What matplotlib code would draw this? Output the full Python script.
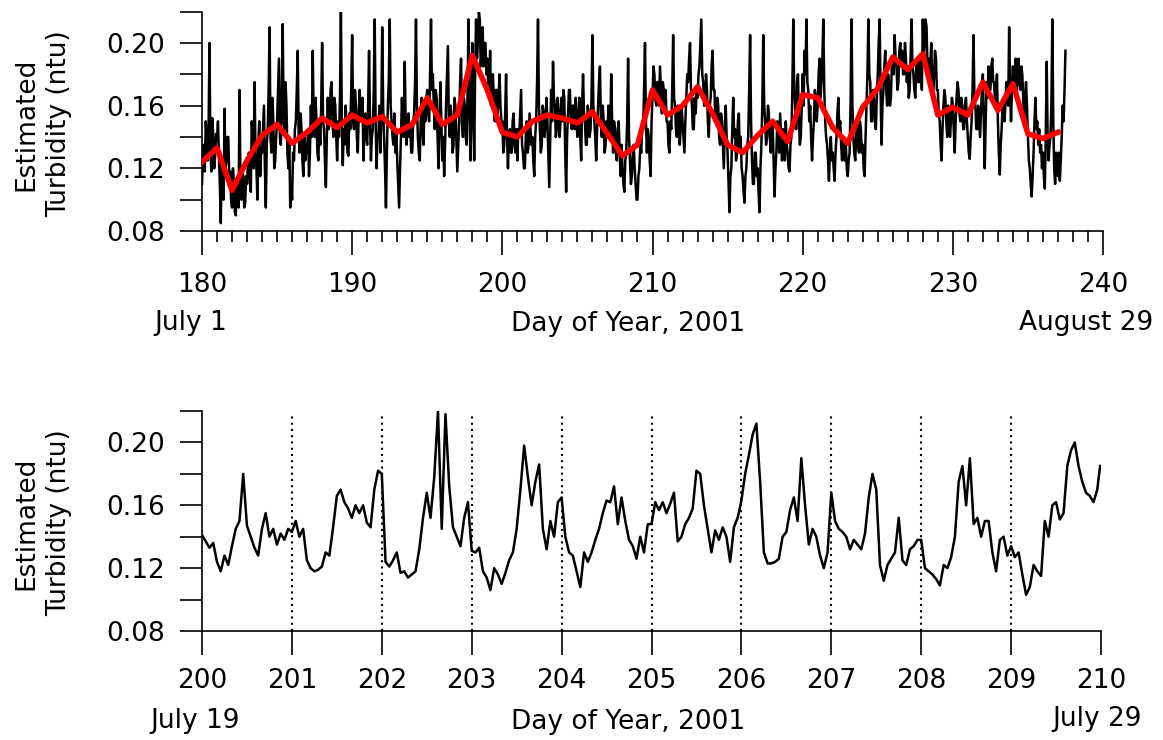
import matplotlib
matplotlib.use("Agg")
import matplotlib.pyplot as plt
import numpy as np
from matplotlib.ticker import FixedLocator, FuncFormatter

plt.rcParams['font.family'] = ['DejaVu Sans']

# ---------------- data ----------------
# Top panel: daily means (red) for day-of-year 180..237
mean_days = list(range(180, 238))
daily_mean = [0.124, 0.133, 0.106, 0.125, 0.141, 0.148, 0.136, 0.143, 0.152, 0.146,
              0.154, 0.149, 0.153, 0.143, 0.148, 0.165, 0.148, 0.154, 0.192, 0.170,
              0.143, 0.140, 0.150, 0.154, 0.152, 0.149, 0.156, 0.142, 0.128, 0.135,
              0.170, 0.154, 0.160, 0.172, 0.155, 0.135, 0.130, 0.141, 0.150, 0.137,
              0.167, 0.165, 0.146, 0.136, 0.159, 0.171, 0.191, 0.183, 0.193, 0.154,
              0.159, 0.154, 0.175, 0.157, 0.174, 0.142, 0.139, 0.143]

# Top panel: raw estimated turbidity, 16 readings per day (1.5-hourly), day 180 .. 237.5
top_raw = [
    [0.110, 0.130, 0.135, 0.118, 0.150, 0.140, 0.125, 0.145, 0.200, 0.130, 0.118, 0.152, 0.140, 0.120, 0.128, 0.142],  # 180
    [0.138, 0.150, 0.128, 0.110, 0.085, 0.125, 0.112, 0.100, 0.158, 0.120, 0.125, 0.140, 0.140, 0.115, 0.118, 0.100],  # 181
    [0.095, 0.120, 0.110, 0.092, 0.090, 0.112, 0.105, 0.095, 0.170, 0.110, 0.100, 0.118, 0.115, 0.095, 0.098, 0.115],  # 182
    [0.110, 0.125, 0.130, 0.112, 0.105, 0.150, 0.140, 0.120, 0.175, 0.130, 0.120, 0.100, 0.135, 0.150, 0.115, 0.130],  # 183
    [0.130, 0.145, 0.160, 0.120, 0.095, 0.135, 0.145, 0.170, 0.210, 0.140, 0.130, 0.165, 0.150, 0.120, 0.125, 0.140],  # 184
    [0.150, 0.170, 0.190, 0.140, 0.135, 0.165, 0.212, 0.150, 0.145, 0.175, 0.160, 0.130, 0.120, 0.140, 0.095, 0.110],  # 185
    [0.100, 0.130, 0.125, 0.145, 0.150, 0.170, 0.195, 0.140, 0.130, 0.155, 0.145, 0.125, 0.115, 0.140, 0.125, 0.135],  # 186
    [0.130, 0.145, 0.115, 0.130, 0.160, 0.140, 0.195, 0.150, 0.140, 0.165, 0.150, 0.130, 0.125, 0.150, 0.135, 0.160],  # 187
    [0.200, 0.150, 0.145, 0.125, 0.108, 0.140, 0.165, 0.145, 0.150, 0.170, 0.175, 0.150, 0.140, 0.165, 0.160, 0.140],  # 188
    [0.125, 0.150, 0.140, 0.165, 0.220, 0.150, 0.122, 0.145, 0.135, 0.160, 0.150, 0.130, 0.128, 0.155, 0.145, 0.170],  # 189
    [0.205, 0.150, 0.145, 0.170, 0.160, 0.140, 0.130, 0.155, 0.170, 0.150, 0.150, 0.165, 0.125, 0.145, 0.155, 0.140],  # 190
    [0.135, 0.160, 0.195, 0.150, 0.125, 0.140, 0.145, 0.170, 0.215, 0.150, 0.120, 0.140, 0.140, 0.160, 0.130, 0.150],  # 191
    [0.210, 0.160, 0.140, 0.120, 0.095, 0.130, 0.160, 0.175, 0.215, 0.160, 0.150, 0.140, 0.135, 0.155, 0.130, 0.145],  # 192
    [0.125, 0.110, 0.095, 0.120, 0.140, 0.165, 0.150, 0.140, 0.188, 0.150, 0.135, 0.150, 0.155, 0.140, 0.145, 0.130],  # 193
    [0.130, 0.150, 0.155, 0.175, 0.215, 0.160, 0.140, 0.130, 0.125, 0.150, 0.165, 0.145, 0.135, 0.160, 0.150, 0.165],  # 194
    [0.170, 0.155, 0.150, 0.180, 0.215, 0.170, 0.180, 0.160, 0.145, 0.170, 0.165, 0.140, 0.120, 0.150, 0.175, 0.150],  # 195
    [0.125, 0.140, 0.115, 0.135, 0.160, 0.180, 0.198, 0.150, 0.140, 0.160, 0.150, 0.130, 0.135, 0.165, 0.160, 0.140],  # 196
    [0.118, 0.135, 0.150, 0.175, 0.190, 0.150, 0.140, 0.165, 0.160, 0.140, 0.135, 0.170, 0.215, 0.160, 0.125, 0.150],  # 197
    [0.200, 0.170, 0.125, 0.180, 0.215, 0.190, 0.200, 0.220, 0.215, 0.185, 0.195, 0.210, 0.185, 0.200, 0.200, 0.180],  # 198
    [0.190, 0.170, 0.175, 0.195, 0.160, 0.175, 0.180, 0.160, 0.150, 0.170, 0.170, 0.155, 0.165, 0.180, 0.160, 0.150],  # 199
    [0.150, 0.130, 0.135, 0.155, 0.180, 0.140, 0.120, 0.140, 0.145, 0.130, 0.130, 0.150, 0.155, 0.135, 0.130, 0.145],  # 200
    [0.125, 0.145, 0.140, 0.155, 0.170, 0.135, 0.130, 0.120, 0.120, 0.140, 0.150, 0.130, 0.135, 0.155, 0.145, 0.135],  # 201
    [0.140, 0.125, 0.115, 0.140, 0.150, 0.175, 0.215, 0.160, 0.145, 0.130, 0.135, 0.160, 0.155, 0.140, 0.150, 0.165],  # 202
    [0.150, 0.130, 0.108, 0.140, 0.170, 0.150, 0.188, 0.165, 0.160, 0.140, 0.145, 0.165, 0.155, 0.140, 0.150, 0.165],  # 203
    [0.150, 0.170, 0.165, 0.130, 0.105, 0.140, 0.155, 0.170, 0.170, 0.150, 0.145, 0.160, 0.160, 0.145, 0.165, 0.150],  # 204
    [0.140, 0.155, 0.165, 0.140, 0.125, 0.160, 0.180, 0.155, 0.150, 0.135, 0.135, 0.160, 0.155, 0.140, 0.145, 0.165],  # 205
    [0.205, 0.160, 0.150, 0.140, 0.125, 0.145, 0.160, 0.175, 0.185, 0.150, 0.140, 0.160, 0.150, 0.130, 0.135, 0.150],  # 206
    [0.140, 0.160, 0.155, 0.140, 0.180, 0.150, 0.130, 0.150, 0.145, 0.130, 0.125, 0.145, 0.150, 0.130, 0.115, 0.135],  # 207
    [0.120, 0.110, 0.105, 0.125, 0.130, 0.150, 0.190, 0.140, 0.125, 0.110, 0.115, 0.130, 0.135, 0.120, 0.110, 0.100],  # 208
    [0.100, 0.115, 0.120, 0.135, 0.130, 0.150, 0.145, 0.170, 0.200, 0.150, 0.130, 0.145, 0.140, 0.125, 0.115, 0.150],  # 209
    [0.165, 0.185, 0.180, 0.165, 0.160, 0.175, 0.175, 0.160, 0.185, 0.170, 0.155, 0.175, 0.170, 0.160, 0.170, 0.150],  # 210
    [0.150, 0.135, 0.130, 0.150, 0.145, 0.170, 0.205, 0.165, 0.160, 0.145, 0.140, 0.160, 0.155, 0.135, 0.145, 0.160],  # 211
    [0.150, 0.140, 0.130, 0.150, 0.165, 0.180, 0.175, 0.190, 0.200, 0.170, 0.160, 0.145, 0.145, 0.165, 0.155, 0.170],  # 212
    [0.165, 0.180, 0.185, 0.200, 0.215, 0.180, 0.175, 0.160, 0.160, 0.180, 0.170, 0.150, 0.140, 0.160, 0.165, 0.185],  # 213
    [0.195, 0.170, 0.170, 0.150, 0.150, 0.165, 0.160, 0.140, 0.135, 0.155, 0.150, 0.135, 0.120, 0.145, 0.160, 0.140],  # 214
    [0.130, 0.110, 0.092, 0.115, 0.120, 0.145, 0.165, 0.140, 0.145, 0.125, 0.130, 0.150, 0.155, 0.130, 0.140, 0.120],  # 215
    [0.115, 0.105, 0.098, 0.115, 0.120, 0.135, 0.140, 0.170, 0.205, 0.150, 0.125, 0.110, 0.110, 0.130, 0.130, 0.115],  # 216
    [0.120, 0.105, 0.092, 0.120, 0.135, 0.160, 0.205, 0.160, 0.150, 0.135, 0.140, 0.160, 0.155, 0.140, 0.130, 0.145],  # 217
    [0.150, 0.125, 0.102, 0.120, 0.130, 0.150, 0.145, 0.130, 0.155, 0.140, 0.125, 0.145, 0.140, 0.125, 0.150, 0.135],  # 218
    [0.130, 0.120, 0.118, 0.135, 0.140, 0.170, 0.215, 0.170, 0.160, 0.145, 0.175, 0.180, 0.150, 0.135, 0.140, 0.160],  # 219
    [0.180, 0.160, 0.195, 0.180, 0.215, 0.175, 0.170, 0.150, 0.160, 0.140, 0.125, 0.140, 0.150, 0.170, 0.165, 0.150],  # 220
    [0.160, 0.180, 0.190, 0.165, 0.175, 0.190, 0.215, 0.170, 0.150, 0.140, 0.135, 0.125, 0.112, 0.130, 0.140, 0.125],  # 221
    [0.130, 0.120, 0.112, 0.130, 0.140, 0.155, 0.165, 0.145, 0.150, 0.135, 0.125, 0.140, 0.140, 0.125, 0.135, 0.120],  # 222
    [0.115, 0.125, 0.130, 0.160, 0.215, 0.160, 0.140, 0.130, 0.125, 0.140, 0.150, 0.135, 0.130, 0.150, 0.145, 0.130],  # 223
    [0.135, 0.120, 0.115, 0.140, 0.160, 0.180, 0.215, 0.180, 0.175, 0.150, 0.150, 0.170, 0.165, 0.150, 0.145, 0.165],  # 224
    [0.180, 0.200, 0.215, 0.170, 0.135, 0.160, 0.170, 0.185, 0.195, 0.170, 0.160, 0.180, 0.175, 0.160, 0.165, 0.185],  # 225
    [0.190, 0.180, 0.205, 0.190, 0.185, 0.170, 0.175, 0.195, 0.200, 0.185, 0.195, 0.180, 0.180, 0.200, 0.190, 0.175],  # 226
    [0.185, 0.165, 0.170, 0.190, 0.215, 0.185, 0.180, 0.170, 0.165, 0.185, 0.190, 0.175, 0.175, 0.190, 0.185, 0.170],  # 227
    [0.215, 0.190, 0.200, 0.215, 0.210, 0.185, 0.190, 0.175, 0.185, 0.200, 0.175, 0.165, 0.180, 0.195, 0.190, 0.170],  # 228
    [0.170, 0.155, 0.150, 0.135, 0.125, 0.145, 0.160, 0.170, 0.165, 0.150, 0.140, 0.160, 0.155, 0.140, 0.150, 0.165],  # 229
    [0.160, 0.145, 0.130, 0.150, 0.165, 0.175, 0.170, 0.155, 0.150, 0.165, 0.160, 0.145, 0.145, 0.160, 0.165, 0.150],  # 230
    [0.140, 0.130, 0.126, 0.140, 0.150, 0.170, 0.205, 0.165, 0.160, 0.145, 0.145, 0.160, 0.150, 0.140, 0.155, 0.170],  # 231
    [0.180, 0.150, 0.120, 0.150, 0.175, 0.165, 0.185, 0.170, 0.170, 0.185, 0.190, 0.175, 0.175, 0.160, 0.165, 0.180],  # 232
    [0.150, 0.130, 0.116, 0.135, 0.145, 0.160, 0.165, 0.150, 0.160, 0.175, 0.175, 0.160, 0.210, 0.170, 0.150, 0.170],  # 233
    [0.185, 0.170, 0.175, 0.190, 0.165, 0.180, 0.190, 0.175, 0.170, 0.185, 0.180, 0.165, 0.150, 0.165, 0.175, 0.160],  # 234
    [0.140, 0.125, 0.120, 0.110, 0.102, 0.115, 0.130, 0.150, 0.165, 0.145, 0.150, 0.135, 0.145, 0.130, 0.135, 0.120],  # 235
    [0.130, 0.115, 0.107, 0.140, 0.188, 0.140, 0.125, 0.135, 0.140, 0.160, 0.215, 0.150, 0.120, 0.110, 0.130, 0.120],  # 236
    [0.115, 0.130, 0.112, 0.125, 0.140, 0.160, 0.150, 0.170, 0.195],                                                  # 237
]
top_first_day = 180
top_per_day = 16

# Bottom panel: hourly readings, day 200 .. 210
bottom_raw = [
    [0.141, 0.137, 0.133, 0.136, 0.124, 0.118, 0.128, 0.122, 0.134, 0.145, 0.150, 0.180,
     0.147, 0.140, 0.133, 0.128, 0.145, 0.155, 0.140, 0.145, 0.135, 0.142, 0.138, 0.145],  # 200
    [0.143, 0.150, 0.140, 0.145, 0.125, 0.120, 0.118, 0.119, 0.121, 0.130, 0.128, 0.146,
     0.166, 0.170, 0.162, 0.158, 0.152, 0.160, 0.155, 0.160, 0.149, 0.146, 0.170, 0.182],  # 201
    [0.180, 0.124, 0.121, 0.125, 0.130, 0.117, 0.118, 0.114, 0.116, 0.118, 0.132, 0.152,
     0.168, 0.152, 0.178, 0.220, 0.145, 0.218, 0.172, 0.146, 0.140, 0.134, 0.152, 0.162],  # 202
    [0.131, 0.130, 0.133, 0.118, 0.114, 0.106, 0.120, 0.116, 0.110, 0.117, 0.125, 0.130,
     0.145, 0.170, 0.198, 0.178, 0.160, 0.175, 0.186, 0.145, 0.132, 0.150, 0.140, 0.162],  # 203
    [0.165, 0.140, 0.130, 0.128, 0.118, 0.108, 0.130, 0.124, 0.130, 0.138, 0.145, 0.155,
     0.163, 0.162, 0.172, 0.148, 0.165, 0.150, 0.138, 0.134, 0.126, 0.140, 0.130, 0.148],  # 204
    [0.148, 0.162, 0.157, 0.162, 0.155, 0.161, 0.168, 0.137, 0.140, 0.148, 0.152, 0.158,
     0.182, 0.180, 0.160, 0.145, 0.130, 0.144, 0.138, 0.146, 0.140, 0.124, 0.146, 0.152],  # 205
    [0.163, 0.180, 0.192, 0.205, 0.212, 0.175, 0.130, 0.123, 0.123, 0.124, 0.126, 0.140,
     0.143, 0.157, 0.165, 0.150, 0.190, 0.160, 0.135, 0.145, 0.140, 0.128, 0.120, 0.130],  # 206
    [0.168, 0.150, 0.145, 0.143, 0.140, 0.132, 0.138, 0.135, 0.132, 0.142, 0.165, 0.180,
     0.170, 0.122, 0.112, 0.122, 0.126, 0.130, 0.152, 0.125, 0.122, 0.132, 0.134, 0.138],  # 207
    [0.138, 0.120, 0.118, 0.116, 0.113, 0.109, 0.122, 0.120, 0.127, 0.140, 0.175, 0.185,
     0.160, 0.190, 0.148, 0.152, 0.140, 0.150, 0.150, 0.130, 0.118, 0.138, 0.140, 0.128],  # 208
    [0.134, 0.127, 0.130, 0.116, 0.103, 0.108, 0.122, 0.118, 0.115, 0.150, 0.140, 0.160,
     0.162, 0.151, 0.155, 0.185, 0.195, 0.200, 0.185, 0.175, 0.168, 0.166, 0.162, 0.170],  # 209
]
bottom_end_value = 0.185
bottom_first_day = 200
bottom_per_day = 24
bottom_day_lines = list(range(201, 210))

y_ticks = [0.08, 0.10, 0.12, 0.14, 0.16, 0.18, 0.20, 0.22]
y_labelled = [0.08, 0.12, 0.16, 0.20]
top_xticks = list(range(180, 241, 10))
bottom_xticks = list(range(200, 211))

# ---------------- build series ----------------
top_x, top_y = [], []
for i, day_vals in enumerate(top_raw):
    for k, v in enumerate(day_vals):
        top_x.append(top_first_day + i + k / top_per_day)
        top_y.append(v)

bot_x, bot_y = [], []
for i, day_vals in enumerate(bottom_raw):
    for k, v in enumerate(day_vals):
        bot_x.append(bottom_first_day + i + k / bottom_per_day)
        bot_y.append(v)
bot_x.append(bottom_first_day + len(bottom_raw) - 0.01)
bot_y.append(bottom_end_value)

# ---------------- figure ----------------
W, H = 1163, 740
fig = plt.figure(figsize=(W / 100, H / 100), dpi=100)

FS = 19
lw_axis = 1.2


def px_box(l, r, b, t):
    return [l / W, 1 - b / H, (r - l) / W, (b - t) / H]


def style_axes(ax):
    for s in ['top', 'right']:
        ax.spines[s].set_visible(False)
    for s in ['left', 'bottom']:
        ax.spines[s].set_linewidth(lw_axis)
    ax.set_ylim(0.08, 0.22)
    ax.yaxis.set_major_locator(FixedLocator(y_ticks))
    ax.yaxis.set_major_formatter(FuncFormatter(
        lambda v, p: ("%.2f" % v) if any(abs(v - t) < 1e-9 for t in y_labelled) else ""))
    ax.tick_params(axis='y', which='major', direction='out', length=16, width=lw_axis,
                   labelsize=FS, pad=11)


ax1 = fig.add_axes(px_box(202, 1103, 231, 11.6))
style_axes(ax1)
ax1.plot(top_x, top_y, color='black', lw=1.8, zorder=2)
ax1.plot(mean_days, daily_mean, color='#ff0000', lw=4.0, zorder=3)
ax1.set_xlim(180, 240)
ax1.set_xticks(top_xticks)
ax1.set_xticks(list(range(180, 241)), minor=True)
ax1.tick_params(axis='x', which='major', direction='out', length=17, width=lw_axis,
                labelsize=FS, pad=12.5)
ax1.tick_params(axis='x', which='minor', direction='out', length=8, width=lw_axis)

ax2 = fig.add_axes(px_box(202, 1101, 631, 411))
style_axes(ax2)
ax2.plot(bot_x, bot_y, color='black', lw=1.8, zorder=2)
for d in bottom_day_lines:
    ax2.plot([d, d], [0.08, 0.218], color='black', lw=1.5, linestyle=(0, (1, 2)), zorder=1)
ax2.set_xlim(200, 210)
ax2.set_xticks(bottom_xticks)
ax2.tick_params(axis='x', which='major', direction='out', length=17, width=lw_axis,
                labelsize=FS, pad=10)

# y labels
for yc in (124, 523):
    fig.text(43 / W, 1 - yc / H, "Estimated\nTurbidity (ntu)", rotation=90,
             ha='center', va='center', multialignment='center', fontsize=FS,
             linespacing=1.35)

# date / axis titles under the panels
fig.text(191 / W, 1 - 323 / H, "July 1", ha='center', va='center', fontsize=FS)
fig.text(628 / W, 1 - 324 / H, "Day of Year, 2001", ha='center', va='center', fontsize=FS)
fig.text(1153 / W, 1 - 323 / H, "August 29", ha='right', va='center', fontsize=FS)

fig.text(195 / W, 1 - 721 / H, "July 19", ha='center', va='center', fontsize=FS)
fig.text(628 / W, 1 - 722 / H, "Day of Year, 2001", ha='center', va='center', fontsize=FS)
fig.text(1097 / W, 1 - 719 / H, "July 29", ha='center', va='center', fontsize=FS)

fig.savefig("out.png", dpi=100)
